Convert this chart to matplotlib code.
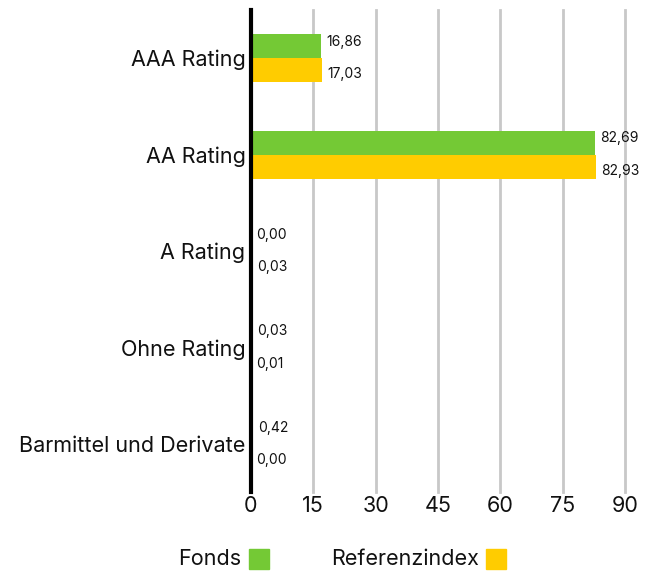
import numpy as np
import matplotlib.pyplot as plt
from matplotlib.patches import Rectangle

categories = ["AAA Rating", "AA Rating", "A Rating", "Ohne Rating", "Barmittel und Derivate"]
fonds = [16.86, 82.69, 0.00, 0.03, 0.42]
referenz = [17.03, 82.93, 0.03, 0.01, 0.00]
series_names = ["Fonds", "Referenzindex"]
colors = ["#74c935", "#ffcc00"]
xticks = [0, 15, 30, 45, 60, 75, 90]

plt.rcParams["font.family"] = ["Inter", "DejaVu Sans"]

fig = plt.figure(figsize=(6.53, 5.72), dpi=100)
ax = fig.add_axes([251 / 653, 80 / 572, 374 / 653, 482 / 572])

y = np.arange(len(categories))
h = 0.25
ax.barh(y - h / 2, fonds, height=h, color=colors[0], zorder=3)
ax.barh(y + h / 2, referenz, height=h, color=colors[1], zorder=3)


def fmt(v):
    return f"{v:.2f}".replace(".", ",")


# labels sit a little outside the bar centres, as in the original
for yy, v in zip(y - h / 2, fonds):
    ax.annotate(fmt(v), (v, yy), xytext=(4, 3), textcoords="offset points",
                va="center", ha="left", fontsize=10, color="#111111")
for yy, v in zip(y + h / 2, referenz):
    ax.annotate(fmt(v), (v, yy), xytext=(4, -3), textcoords="offset points",
                va="center", ha="left", fontsize=10, color="#111111")

ax.set_ylim(len(categories) - 0.5, -0.5)
ax.set_xlim(0, 90)
ax.set_yticks(y)
ax.set_yticklabels(categories, fontsize=15.5, color="#111111")
ax.set_xticks(xticks)
ax.set_xticklabels([str(t) for t in xticks], fontsize=15.5, color="#111111")
ax.tick_params(axis="y", length=0, pad=4)
ax.tick_params(axis="x", length=0, pad=3)

for t in xticks[1:]:
    ax.axvline(t, color="#c8c8c8", lw=2, zorder=1, clip_on=False)
for s in ["top", "right", "bottom"]:
    ax.spines[s].set_visible(False)
ax.spines["left"].set_linewidth(3)
ax.spines["left"].set_color("black")
ax.spines["left"].set_zorder(4)

# legend: label left of color square
fig.text(241 / 653, 1 - 559 / 572, series_names[0], ha="right", va="center",
         fontsize=15.5, color="#111111")
fig.patches.append(Rectangle((249 / 653, 1 - 569 / 572), 20 / 653, 20 / 572,
                             transform=fig.transFigure, color=colors[0]))
fig.text(479 / 653, 1 - 559 / 572, series_names[1], ha="right", va="center",
         fontsize=15.5, color="#111111")
fig.patches.append(Rectangle((486 / 653, 1 - 569 / 572), 20 / 653, 20 / 572,
                             transform=fig.transFigure, color=colors[1]))

fig.savefig("out.png", dpi=100)
